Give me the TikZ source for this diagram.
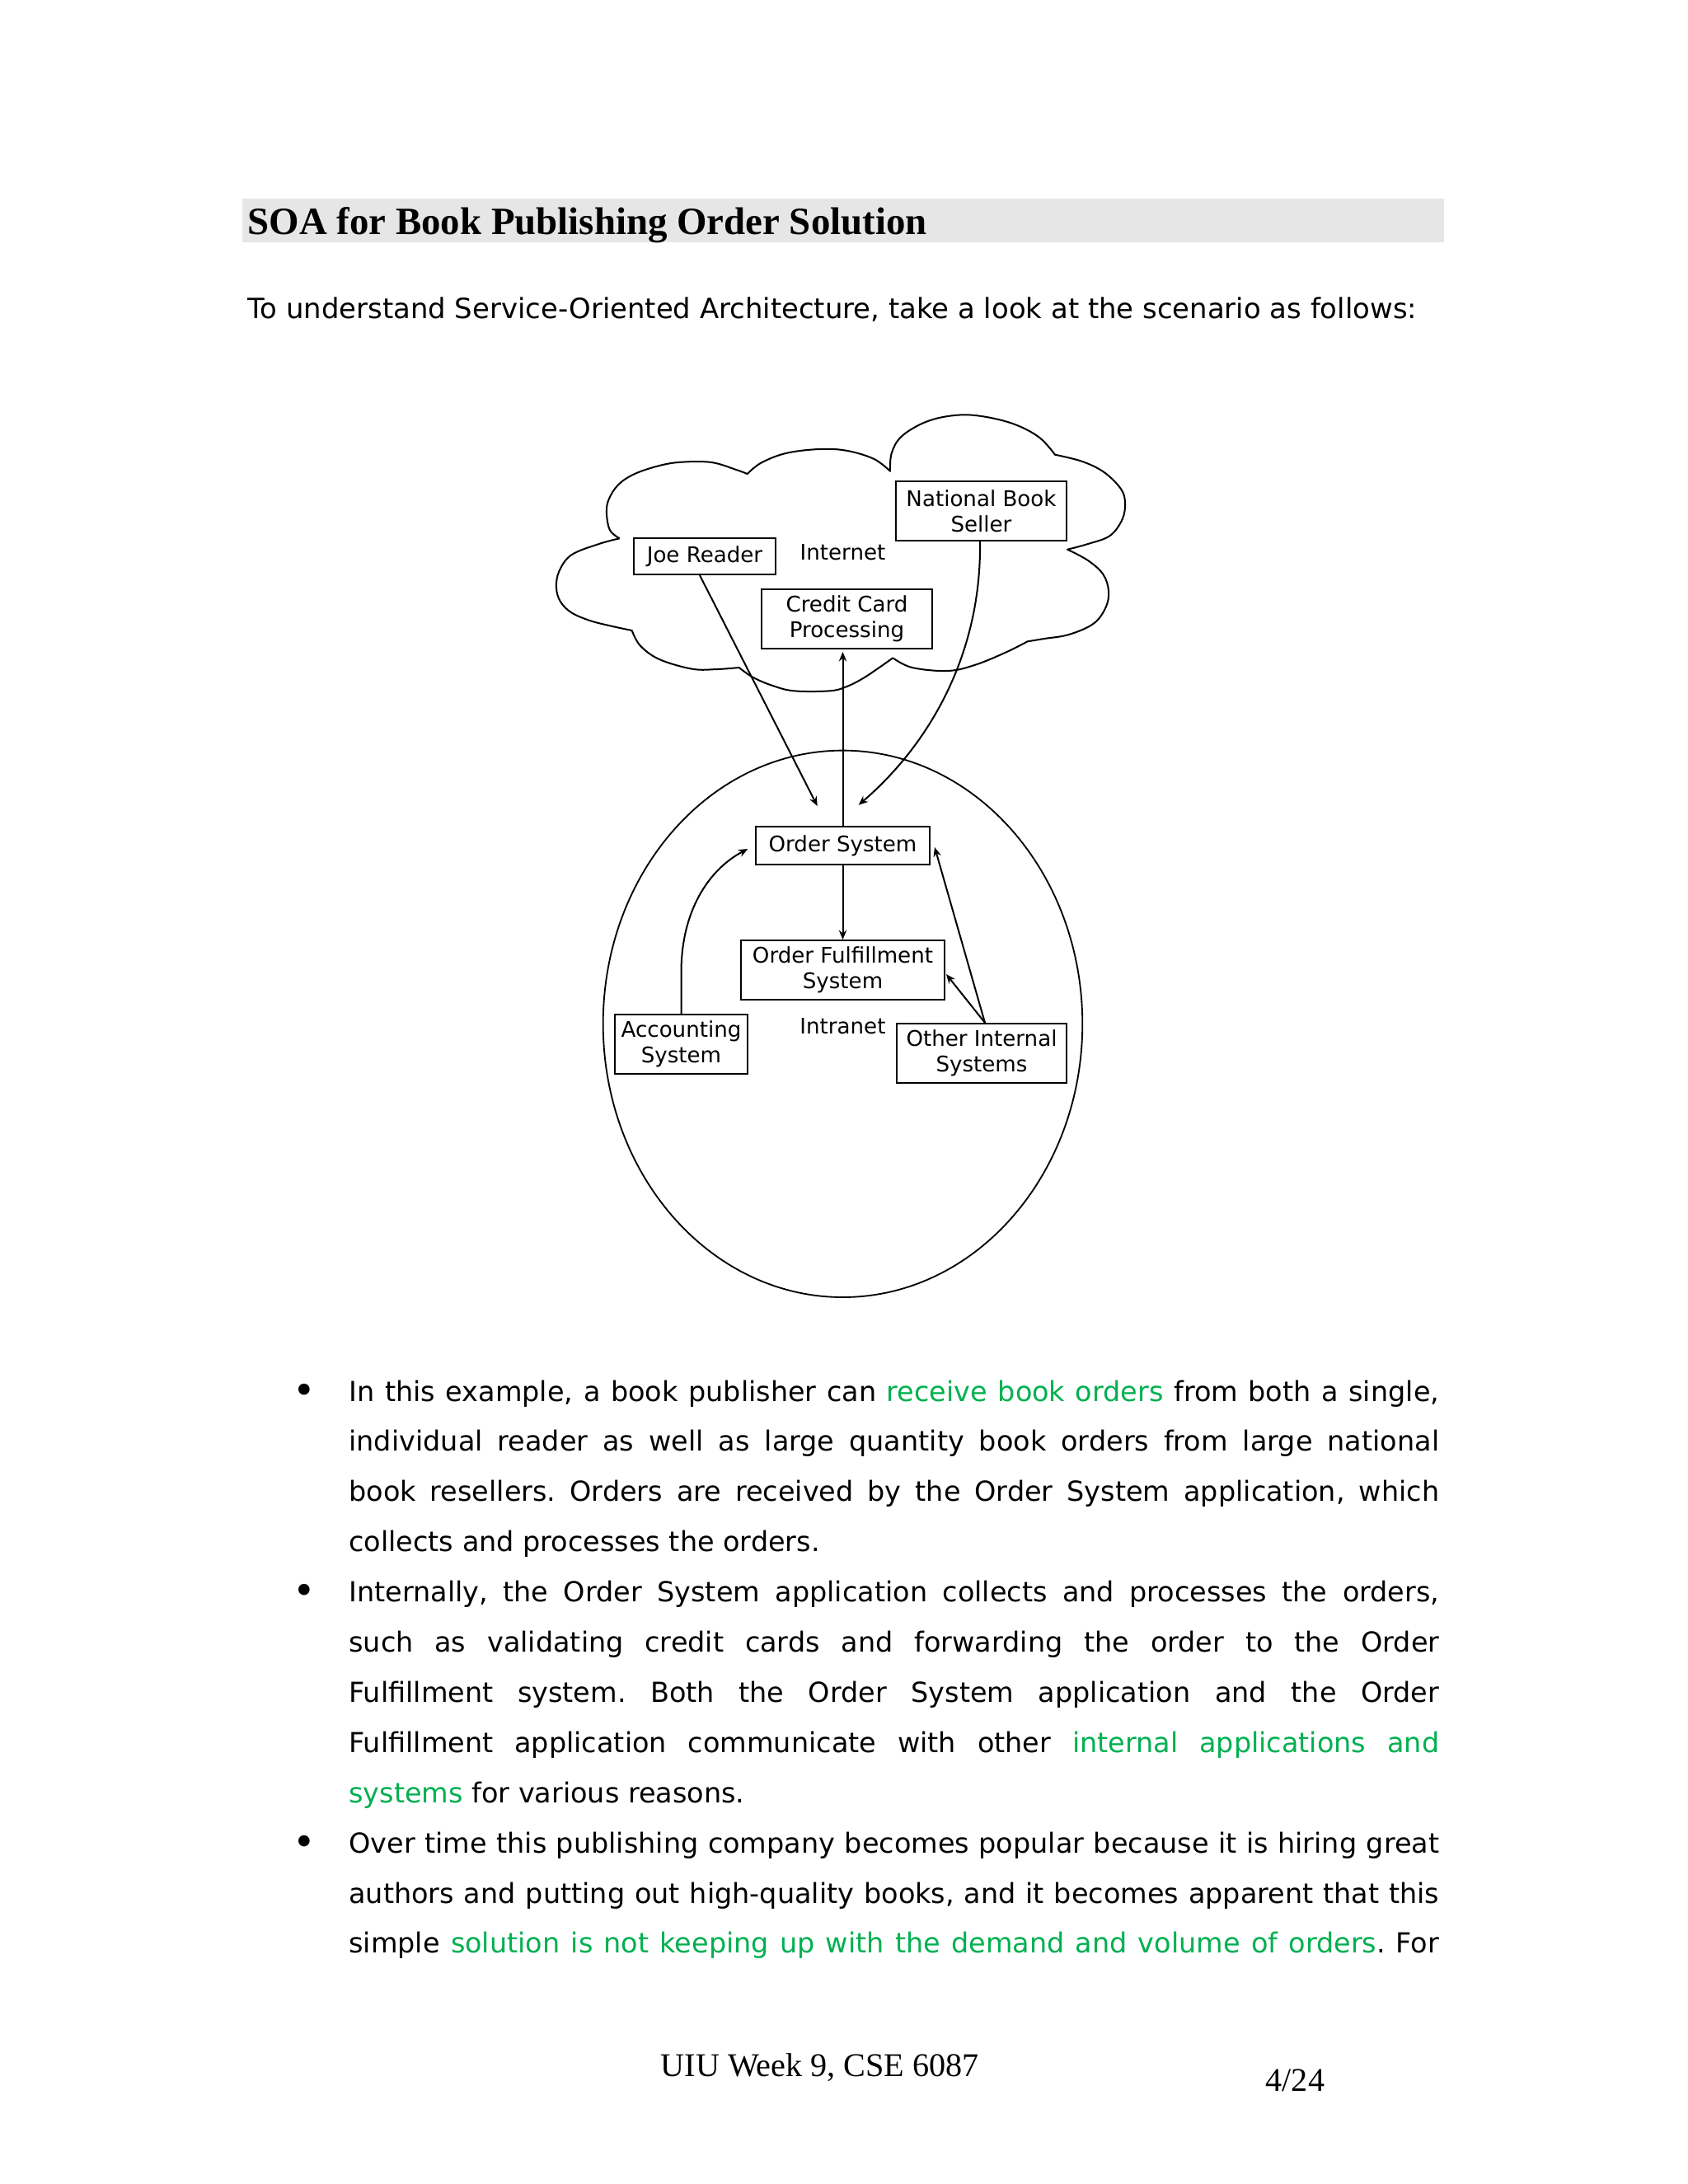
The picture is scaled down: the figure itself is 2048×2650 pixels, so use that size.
\documentclass[tikz,border=0pt]{standalone}
\usepackage{fontspec}
\setmainfont{DejaVu Sans}
\newfontfamily\timesfont{Liberation Serif}
\usetikzlibrary{arrows.meta}
\definecolor{titlegray}{HTML}{E6E6E6}
\definecolor{hlgreen}{RGB}{0,176,80}
\newcommand{\hl}[1]{\textcolor{hlgreen}{#1}}
\newcommand{\jline}[1]{\makebox[395.3pt][s]{#1}}
\newcommand{\pxu}{0.29883pt}
\newcommand{\diagfont}{\fontsize{7.8}{9.2}\selectfont}
\newcommand{\bodyfont}{\frenchspacing\fontsize{10}{12}\selectfont}
\tikzset{
  box/.style={draw, line width=0.6pt, inner sep=0pt, align=center, font=\diagfont},
  bodyline/.style={anchor=base west, inner sep=0pt, font=\bodyfont},
  bul/.style={anchor=base, inner sep=0pt, font=\fontsize{14}{14}\selectfont},
  conn/.style={line width=0.6pt, -{Stealth[length=3.4pt,width=2.8pt]}},
  outline/.style={line width=0.6pt, line join=round},
  label/.style={anchor=base, inner sep=0pt, font=\diagfont},
}
\begin{document}
\begin{tikzpicture}[x=0.29883pt, y=-0.29883pt]
\useasboundingbox (0,0) rectangle (2048,2650);
\fill[white] (0,0) rectangle (2048,2650);

% title
\fill[titlegray] (294,240.7) rectangle (1752,294);
\node[anchor=base west, inner sep=0pt, font=\timesfont\bfseries\fontsize{14}{16}\selectfont] (title) at (300,284) {SOA for Book Publishing Order Solution};
\node[anchor=base west, inner sep=0pt, font=\frenchspacing\fontsize{10.13}{12}\selectfont] (intro) at (300,386.7) {To understand Service-Oriented Architecture, take a look at the scenario as follows:};

% cloud (Internet)
\draw[outline]
  plot[smooth, tension=0.6] coordinates {(751.7,653.3) (740,643.3) (736,623.3) (738.3,606.7) (750,588.3) (770,575) (800,565) (826.7,560.7) (863.3,561) (893.3,570) (906.7,575)}
  -- plot[smooth, tension=0.6] coordinates {(906.7,575) (923.3,561.7) (953.3,550) (993.3,545) (1026.7,546.7) (1060,556.7) (1080,571.7)}
  -- plot[smooth, tension=0.6] coordinates {(1080,571.7) (1081.7,550) (1093.3,530) (1120,513.3) (1150,505) (1183.3,504) (1226.7,513.3) (1260,530) (1280,551.7)}
  -- plot[smooth, tension=0.6] coordinates {(1280,551.7) (1313.3,560) (1340,573.3) (1360,593.3) (1365,610) (1361.7,630) (1346.7,650) (1320,660) (1295,666.7)}
  -- plot[smooth, tension=0.6] coordinates {(1295,666.7) (1320,680) (1338.3,696.7) (1345,716.7) (1341.7,736.7) (1326.7,756.7) (1296.7,770) (1266.7,775) (1246.7,778.3)}
  -- plot[smooth, tension=0.6] coordinates {(1246.7,778.3) (1220,791.7) (1183.3,806.7) (1150,814) (1106.7,810) (1083.3,798.3)}
  -- plot[smooth, tension=0.6] coordinates {(1083.3,798.3) (1066.7,810) (1046.7,823.3) (1026.7,833.3) (1006.7,838.3) (963.3,838.3) (936.7,831.7) (913.3,821.7) (896.7,810)}
  -- plot[smooth, tension=0.6] coordinates {(896.7,810) (870,812) (840,811.7) (800,800) (776.7,783.3) (766.7,765)}
  -- plot[smooth, tension=0.6] coordinates {(766.7,765) (743.3,760) (716.7,753.3) (693.3,743.3) (680,730) (675,713.3) (678.3,693.3) (693.3,673.3) (726.7,660) (751.7,653.3)};

% ellipse (Intranet)
\draw[line width=0.55pt] (1022.5,1242.3) ellipse [x radius=290.8, y radius=331.7];

\node[label] (internet) at (1022.5,679) {Internet};
\node[label] (intranet) at (1022.5,1254) {Intranet};

% boxes
\node[box, minimum width={172*\pxu}, minimum height={44*\pxu}] (joe) at (855,675) {Joe Reader};
\node[box, minimum width={207*\pxu}, minimum height={72*\pxu}] (nbs) at (1190.5,620) {National Book\\Seller};
\node[box, minimum width={207*\pxu}, minimum height={72*\pxu}] (ccp) at (1027.5,751) {Credit Card\\Processing};
\node[box, minimum width={211*\pxu}, minimum height={46*\pxu}] (os) at (1022.5,1026) {Order System};
\node[box, minimum width={247*\pxu}, minimum height={72*\pxu}] (ofs) at (1022.5,1177) {Order Fulfillment\\System};
\node[box, minimum width={161*\pxu}, minimum height={72*\pxu}] (acc) at (826.5,1267) {Accounting\\System};
\node[box, minimum width={206*\pxu}, minimum height={72*\pxu}] (ois) at (1191,1278) {Other Internal\\Systems};

\coordinate (joeTip) at (991.7,978);
\coordinate (nbsTip) at (1041.7,976.7);
\coordinate (accTip) at (907.3,1030);

% connectors
\draw[conn] ([xshift=-6*\pxu]joe.south) -- (joeTip);
\draw[conn] ([xshift=-1.5*\pxu]nbs.south) .. controls (1191,800) and (1122,908) .. (nbsTip);
\draw[conn] (os.north) -- ([yshift=-0.9pt]os.north |- ccp.south);
\draw[conn] (os.south) -- (ofs.north);
\draw[conn] (acc.north) -- ++(0,-50) .. controls (826.5,1105) and (860,1055) .. (accTip);
\draw[conn] ([xshift=4*\pxu]ois.north) -- ([shift={(5,2)}]os.east);
\draw[conn] ([xshift=4*\pxu]ois.north) -- ([shift={(1,5)}]ofs.east);

% bullets
\node[bul] (b1) at (369,1703) {•};
\node[bul] (b2) at (369,1946.6) {•};
\node[bul] (b3) at (369,2251.1) {•};

% body text
\node[bodyline] (l1) at (422.7,1700) {\jline{In this example, a book publisher can \hl{receive book orders} from both a single,}};
\node[bodyline] (l2) at (422.7,1760.9) {\jline{individual reader as well as large quantity book orders from large national}};
\node[bodyline] (l3) at (422.7,1821.8) {\jline{book resellers. Orders are received by the Order System application, which}};
\node[bodyline] (l4) at (422.7,1882.7) {collects and processes the orders.};
\node[bodyline] (l5) at (422.7,1943.6) {\jline{Internally, the Order System application collects and processes the orders,}};
\node[bodyline] (l6) at (422.7,2004.5) {\jline{such as validating credit cards and forwarding the order to the Order}};
\node[bodyline] (l7) at (422.7,2065.4) {\jline{Fulfillment system. Both the Order System application and the Order}};
\node[bodyline] (l8) at (422.7,2126.3) {\jline{Fulfillment application communicate with other \hl{internal applications and}}};
\node[bodyline] (l9) at (422.7,2187.2) {\hl{systems} for various reasons.};
\node[bodyline] (l10) at (422.7,2248.1) {\jline{Over time this publishing company becomes popular because it is hiring great}};
\node[bodyline] (l11) at (422.7,2309) {\jline{authors and putting out high-quality books, and it becomes apparent that this}};
\node[bodyline] (l12) at (422.7,2369.9) {\jline{simple \hl{solution is not keeping up with the demand and volume of orders}. For}};

% footer
\node[anchor=base west, inner sep=0pt, font=\timesfont\fontsize{12}{14}\selectfont] (footer) at (801,2519) {UIU Week 9, CSE 6087};
\node[anchor=base west, inner sep=0pt, font=\timesfont\fontsize{12}{14}\selectfont] (page) at (1535,2537) {4/24};
\end{tikzpicture}
\end{document}
